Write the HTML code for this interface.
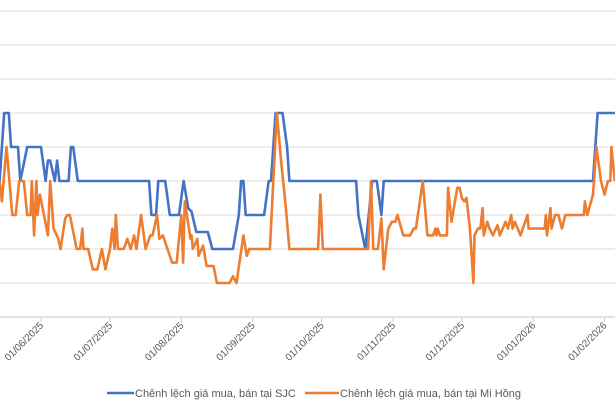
<!DOCTYPE html>
<html><head><meta charset="utf-8"><style>
html,body{margin:0;padding:0;background:#fff;}
svg{display:block;font-family:"Liberation Sans",sans-serif;}
</style></head><body>
<svg id="chart" width="615" height="410">
<g id="grid"></g>
<g id="xaxis"></g>
<g id="series"></g>
<g>
<g>
<line x1="107" y1="393" x2="134" y2="393" stroke="#4472C4" stroke-width="2.6"/>
<text x="135" y="397" font-size="11" fill="#595959">Chênh lệch giá mua, bán tại SJC</text></g>
<g>
<line x1="305" y1="393" x2="339" y2="393" stroke="#ED7D31" stroke-width="2.6"/>
<text x="340" y="397" font-size="11" fill="#595959">Chênh lệch giá mua, bán tại Mi Hồng</text></g>
</g>
</svg>
<script>
// day offsets from 01/06/2025
const tickDays=[0,30,61,92,122,153,183,214,245];
const tickLabels=["01/06/2025","01/07/2025","01/08/2025","01/09/2025","01/10/2025","01/11/2025","01/12/2025","01/01/2026","01/02/2026"];
const gridValues=[0,1,2,3,4,5,6,7,8,9];
const sjcDays=[-18,-16,-14,-13,-10,-9,-6,0,2,3,4,6,7,8,12,13,14,16,47,48,50,51,54,56,60,62,64,65.5,66.5,67.5,72.5,74.5,83.5,86,87,88,89,97,99,100,102,105,107,108,137,138,141,144,146,148,149,240,242,250];
const sjcValues=[4,6,6,5,5,4,5,5,4,4.6,4.6,4,4.6,4,4,5,5,4,4,3,3,4,4,3,3,4,3.2,3.1,2.8,2.5,2.5,2,2,3,4,4,3,3,4,4,6,6,5,4,4,3,2,4,4,3,4,4,6,6];
const mhDays=[-18,-17,-15,-12.5,-11,-9.5,-7.5,-6,-4.5,-4,-3,-2,-1.5,-0.5,1,3,4,5.5,7.5,8.5,10.5,11.5,12.5,15.5,17,18,18.5,20.5,22.5,24.5,26.5,28,30,31,32,32.5,33.5,36,37.5,39,40.5,41.5,43.5,45.5,47.5,48.5,50.5,51.5,53,57,59,61,61.8,62.5,65,65.5,66,68,68.5,70.5,72,75,76.5,82,83.5,85,88,89.5,90.5,99.5,101,102.5,104.5,106.5,108,120.5,121.5,122.5,142.2,143.5,144.5,146.5,148,149,151,152.5,154,155,157.5,160.5,162,163,166,168,170.5,171.5,172,172.5,173.5,176.5,177,178.5,181,182,183,184,185,186.5,188,188.5,190,191,192,192.5,194,195,196.5,198.5,199.5,202,203,204.5,205,206,208.5,211.5,212,219,219.5,220,221.5,222,223.5,225,226.5,228,236,236.5,237.5,240,241.5,243.5,245,246.5,247.5,248,249.5];
const mhValues=[4,3.4,5,3,3,4,4,3,3,4,2.4,4,3,3.6,3.1,2.4,4,2.6,2.3,2,2.9,3,3,2,2,2.6,2,2,1.4,1.4,2,1.4,2,2.6,2,3,2,2,2.3,2,2.4,2,3,2,2.4,2.4,3,2.3,2.4,1.6,1.6,3,1.6,3.4,2.3,2.4,2,2.3,1.8,2.1,1.5,1.5,1,1,1.2,1,2.4,1.8,2,2,4,6,4.5,3.2,2,2,3.6,2,2,4,2,2,2.9,1.4,2.6,2.8,2.8,3,2.4,2.4,2.6,2.6,4,2.4,2.4,2.6,2.4,2.6,2.4,2.4,3.8,2.8,3.8,3.8,3.5,3.4,3.5,2.6,1,2.4,2.6,2.6,3.2,2.4,2.8,2.6,2.4,2.7,2.4,2.8,2.6,3,2.6,2.8,2.4,3,2.6,2.6,3,2.4,3.2,2.6,3,3,2.6,3,3,3.4,3,3.6,5,4,3.6,4,4,5,4];
const NS="http://www.w3.org/2000/svg";
function xDay(d){return 41+d*2.3;}
function yV(v){return 317-v*34;}
function mk(tag,attrs,parent){const e=document.createElementNS(NS,tag);for(const k in attrs)e.setAttribute(k,attrs[k]);parent.appendChild(e);return e;}
const grid=document.getElementById('grid');
gridValues.forEach(v=>{
  const l=mk('line',{x1:0,x2:615,y1:yV(v),y2:yV(v),stroke:v===0?'#d0d0d0':'#e4e4e4','stroke-width':1.2},grid);
  
  
});
const xa=document.getElementById('xaxis');
tickDays.forEach((d,i)=>{
  const x=xDay(d);
  const t=mk('line',{x1:x,x2:x,y1:317,y2:322,stroke:'#d0d0d0','stroke-width':1},xa);
  
  
  const tx=mk('text',{x:x+3,y:326,'font-size':10,fill:'#595959','text-anchor':'end',transform:`rotate(-45 ${x+3} 326)`},xa);
  tx.textContent=tickLabels[i];
  
  
});
const s=document.getElementById('series');
function line(days,vals,color,name){
  const pts=days.map((d,i)=>xDay(d).toFixed(1)+','+yV(vals[i]).toFixed(1)).join(' ');
  const p=mk('polyline',{points:pts,fill:'none',stroke:color,'stroke-width':2.6,'stroke-linejoin':'round'},s);
  
  
}
line(sjcDays,sjcValues,'#4472C4','sjc-line');
line(mhDays,mhValues,'#ED7D31','mi-hong-line');
</script>
</body></html>
